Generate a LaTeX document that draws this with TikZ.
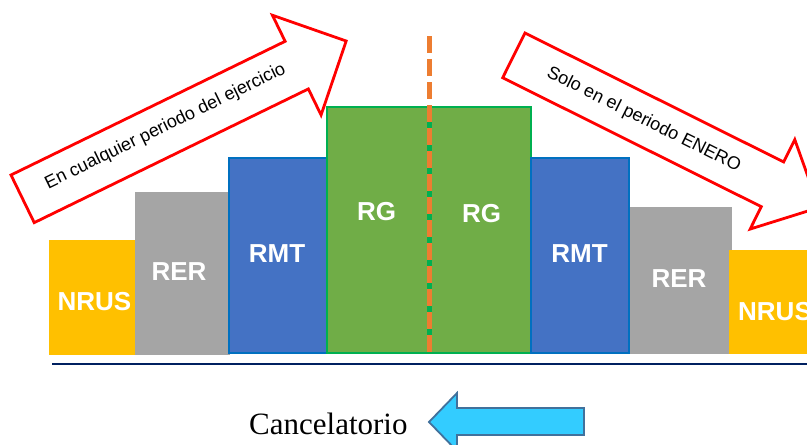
\documentclass[tikz,border=0pt]{standalone}
\usepackage{fontspec}
\setmainfont{Liberation Sans}
\newfontfamily\timesfont{Liberation Serif}
\usepackage{tikz}

\definecolor{nrusfill}{HTML}{FFC000}
\definecolor{rerfill}{HTML}{A5A5A5}
\definecolor{rmtfill}{HTML}{4472C4}
\definecolor{rmtline}{HTML}{0070C0}
\definecolor{rgfill}{HTML}{70AD47}
\definecolor{rgline}{HTML}{00B050}
\definecolor{splitline}{HTML}{ED7D31}
\definecolor{axisline}{HTML}{002060}
\definecolor{cyanfill}{HTML}{33CCFF}
\definecolor{cyanline}{HTML}{41719C}

\begin{document}
\begin{tikzpicture}[x=1pt,y=-1pt,
        bar/.style={inner sep=0pt,outer sep=0pt,anchor=south west},
        bar label/.style={text=white,inner sep=0pt,font=\fontsize{26}{28}\selectfont\bfseries},
        big arrow/.style={draw=red,line width=2.8pt,fill=white,line join=miter},
        arrow text/.style={inner sep=0pt,transform shape,font=\fontsize{18}{20}\selectfont}]

    \useasboundingbox (0,0) rectangle (807,445);

    % left big arrow
    \begin{scope}[shift={(11,175)},rotate=26]
        \draw[big arrow] (0,0) -- (305,0) -- (305,-29) -- (360,26.5) -- (305,82) -- (305,53) -- (0,53) -- cycle;
        \node[arrow text,anchor=base] (textL) at (160,29) {En cualquier periodo del ejercicio};
    \end{scope}

    % right big arrow
    \begin{scope}[shift={(525,33)},rotate=-26.5]
        \draw[big arrow] (0,0) -- (289,0) -- (289,-25) -- (341,25) -- (289,75) -- (289,50) -- (0,50) -- cycle;
        \node[arrow text,anchor=base] (textR) at (145,29.5) {Solo en el periodo ENERO};
    \end{scope}

    % bars
    \node[bar,fill=nrusfill,minimum width=86,minimum height=115] (nrusL) at (49,355) {};
    \node[bar,fill=rerfill,minimum width=95,minimum height=163] (rerL) at (135,355) {};
    \node[bar,fill=rmtfill,draw=rmtline,line width=2pt,minimum width=98,minimum height=195] (rmtL) at (229,353) {};
    \node[bar,fill=rgfill,draw=rgline,line width=2pt,minimum width=102,minimum height=246] (rgL) at (327,353) {};
    \node[bar,fill=rgfill,draw=rgline,line width=2pt,minimum width=102,minimum height=246] (rgR) at (429,353) {};
    \node[bar,fill=rmtfill,draw=rmtline,line width=2pt,minimum width=98,minimum height=195] (rmtR) at (531,353) {};
    \node[bar,fill=rerfill,minimum width=102,minimum height=147] (rerR) at (630,354) {};
    \node[bar,fill=nrusfill,minimum width=86,minimum height=104] (nrusR) at (729,354) {};

    \node[bar label] (nrusLtext) at (94.5,302) {NRUS};
    \node[bar label] (rerLtext) at (179,272) {RER};
    \node[bar label] (rmtLtext) at (277,254) {RMT};
    \node[bar label] (rgLtext) at (376.5,211.5) {RG};
    \node[bar label] (rgRtext) at (481.5,214) {RG};
    \node[bar label] (rmtRtext) at (579.5,254) {RMT};
    \node[bar label] (rerRtext) at (679,278.5) {RER};
    \node[bar label,anchor=west] (nrusRtext) at (738,312) {NRUS};

    % dividing line
    \coordinate (splitTop) at (429,36);
    \coordinate (splitBox) at (429,107);
    \coordinate (splitBot) at (429,353);
    \draw[rgline,line width=5pt] (splitBox) -- (splitBot);
    \draw[splitline,line width=5pt,dash pattern=on 17pt off 6pt] (splitTop) -- (splitBot);

    % base line
    \coordinate (axisL) at (52,364);
    \coordinate (axisR) at (807,364);
    \draw[axisline,line width=2.5pt] (axisL) -- (axisR);

    % bottom
    \node[anchor=base west,inner sep=0pt,font=\timesfont\fontsize{31}{33}\selectfont] (cancel) at (249,434) {Cancelatorio};
    \draw[draw=cyanline,fill=cyanfill,line width=1.8pt] (429,422) -- (457,393) -- (457,408) -- (584,408) -- (584,435) -- (457,435) -- (457,451) -- cycle;
\end{tikzpicture}
\end{document}
